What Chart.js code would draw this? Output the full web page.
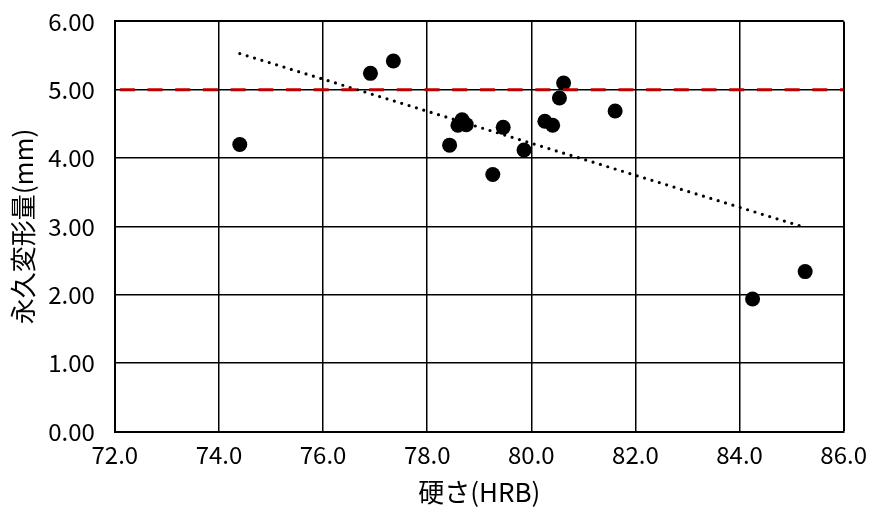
<!DOCTYPE html>
<html>
<head>
<meta charset="utf-8">
<script src="https://cdn.jsdelivr.net/npm/chart.js@4/dist/chart.umd.min.js"></script>
<style>
  html, body { margin: 0; padding: 0; background: #fff; }
  #wrap { width: 870px; height: 507px; }
</style>
</head>
<body>
<div id="wrap"><canvas id="c" width="870" height="507"></canvas></div>
<script>
// ---- data ----
const hardness = [74.40, 76.91, 77.35, 78.43, 78.59, 78.67, 78.75, 79.26, 79.46, 79.86, 80.26, 80.41, 80.54, 80.62, 81.61, 84.25, 85.26];
const deformation = [4.20, 5.24, 5.42, 4.19, 4.48, 4.56, 4.49, 3.76, 4.45, 4.12, 4.54, 4.48, 4.88, 5.10, 4.69, 1.94, 2.34];
const trendX = [74.40, 85.20];
const trendY = [5.53, 3.00];
const limitX = [72.0, 86.0];
const limitY = [5.00, 5.00];
const xTicks = [72, 74, 76, 78, 80, 82, 84, 86];
const yTicks = [0, 1, 2, 3, 4, 5, 6];
const xTitle = '硬さ(HRB)';
const yTitle = '永久変形量(mm)';

const FONT = "'Noto Sans CJK JP', sans-serif";
const toPts = (xs, ys) => xs.map((x, i) => ({ x: x, y: ys[i] }));

new Chart(document.getElementById('c'), {
  type: 'scatter',
  data: {
    datasets: [
      {
        label: 'limit',
        type: 'line',
        data: toPts(limitX, limitY),
        borderColor: '#C00000',
        borderWidth: 3,
        borderDash: [15, 12.7],
        borderDashOffset: 22.7,
        pointRadius: 0,
        fill: false
      },
      {
        label: 'trend',
        type: 'line',
        data: toPts(trendX, trendY),
        borderColor: '#000',
        borderWidth: 3.2,
        borderDash: [0, 7.7],
        borderCapStyle: 'round',
        pointRadius: 0,
        fill: false
      },
      {
        label: 'data',
        data: toPts(hardness, deformation),
        backgroundColor: '#000',
        borderColor: '#000',
        borderWidth: 0,
        pointRadius: 7.5,
        pointHoverRadius: 7.5
      }
    ]
  },
  options: {
    responsive: false,
    animation: false,
    events: [],
    layout: { padding: { left: 2, right: 2, top: 0, bottom: 0 } },
    plugins: { legend: { display: false }, tooltip: { enabled: false } },
    scales: {
      x: {
        type: 'linear',
        min: 72, max: 86,
        afterBuildTicks: s => { s.ticks = xTicks.map(v => ({ value: v })); },
        ticks: {
          color: '#000',
          font: { family: FONT, size: 24 },
          padding: 3,
          maxRotation: 0,
          callback: v => Number(v).toFixed(1)
        },
        grid: {
          color: '#000',
          lineWidth: c => (c.tick && c.tick.value === 86 ? 2 : 1.5),
          tickLength: 6,
          tickColor: 'rgba(0,0,0,0)'
        },
        border: { display: true, color: '#000', width: 2 },
        title: {
          display: true,
          text: xTitle,
          color: '#000',
          font: { family: FONT, size: 26, lineHeight: 1.1 },
          padding: { top: 5, bottom: 1 }
        }
      },
      y: {
        type: 'linear',
        min: 0, max: 6,
        afterBuildTicks: s => { s.ticks = yTicks.map(v => ({ value: v })); },
        ticks: {
          color: '#000',
          font: { family: FONT, size: 24 },
          padding: 7,
          callback: v => Number(v).toFixed(2)
        },
        grid: {
          color: '#000',
          lineWidth: c => (c.tick && c.tick.value === 6 ? 2 : 1.5),
          tickLength: 13,
          tickColor: 'rgba(0,0,0,0)'
        },
        border: { display: true, color: '#000', width: 2 },
        title: {
          display: true,
          text: yTitle,
          color: '#000',
          font: { family: FONT, size: 26 },
          padding: { top: 6, bottom: 2 }
        }
      }
    }
  }
});
</script>
</body>
</html>
